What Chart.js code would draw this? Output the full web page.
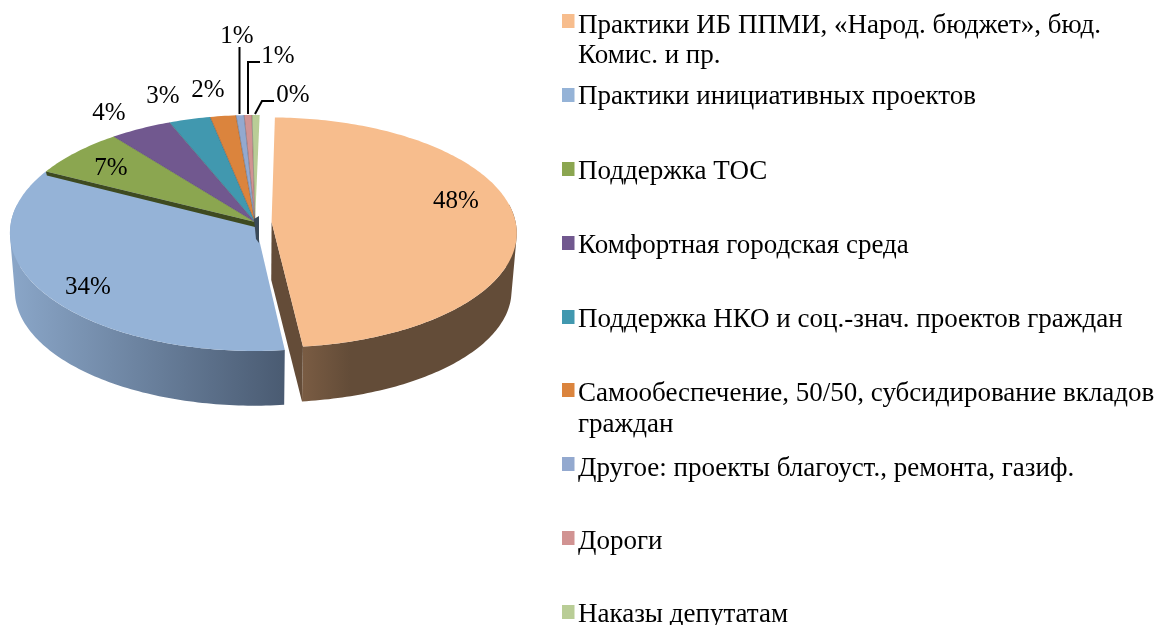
<!DOCTYPE html>
<html>
<head>
<meta charset="utf-8">
<style>html,body{margin:0;padding:0;background:#fff}canvas{display:block}</style>
<script src="https://cdn.jsdelivr.net/npm/chart.js@4"></script>
</head>
<body>
<canvas id="c" width="1154" height="625"></canvas>
<script>
const categories = [
  ["Практики ИБ ППМИ, «Народ. бюджет», бюд.", "Комис. и пр."],
  ["Практики инициативных проектов"],
  ["Поддержка ТОС"],
  ["Комфортная городская среда"],
  ["Поддержка НКО и соц.-знач. проектов граждан"],
  ["Самообеспечение, 50/50, субсидирование вкладов", "граждан"],
  ["Другое: проекты благоуст., ремонта, газиф."],
  ["Дороги"],
  ["Наказы депутатам"]
];
const sliceValues = [47.9, 34.2, 6.9, 4.45, 3.0, 1.86, 0.58, 0.56, 0.55];
const percentLabels = ["48%", "34%", "7%", "4%", "3%", "2%", "1%", "1%", "0%"];
const sliceColors = ["#F7BD8D", "#95B3D7", "#8BA650", "#71588F", "#4198AF", "#DB843D", "#93A9CF", "#D19392", "#B9CD96"];

// layout of the drawing (not data)
const P = {
  cy: 222, cyBottom: 280, ryTop: 117, ryBottom: 114, rxBottomFactor: 0.98, persp: 0.093,
  explodeU: [0.068, 0, 0, 0, 0, 0, 0, 0, 0], scaleV: [0.975, 1, 1, 1, 1, 1, 1, 1, 1]
};
const labelCenters = [[456,201],[88,287],[111,168],[109,113],[163,96],[208,90],[237,36],[278,56],[293,95]];
const leaders = {6: [[239.5,47],[239.5,114]], 7: [[248,114],[248,62],[260,62]], 8: [[255,114],[262,101],[274,101]]};
const legendSwatchY = [14, 88, 162, 236, 310, 383, 457, 531, 605];
const legendBaselines = [[33,63],[104],[179],[253],[327],[401,432],[476],[549],[622]];
const LEGEND_FONT = '27px "Liberation Serif"';
const LABEL_FONT = '25px "Liberation Serif"';

function project(el, i, t, bottom, radial) {
  const r = radial === undefined ? 1 : radial;
  const rx = bottom ? el.outerRadius * P.rxBottomFactor : el.outerRadius;
  const ry = bottom ? P.ryBottom : P.ryTop;
  const cy = bottom ? P.cyBottom : P.cy;
  const u = r * Math.sin(t) + P.explodeU[i];
  const v = -r * Math.cos(t) * P.scaleV[i];
  const d = 1 - P.persp * v;
  return [el.x + rx * u / d, cy + ry * v / d];
}
function rim(el, i, t0, t1, bottom) {
  const pts = [], n = Math.max(2, Math.ceil((t1 - t0) / (Math.PI / 180)));
  for (let k = 0; k <= n; k++) pts.push(project(el, i, t0 + (t1 - t0) * k / n, bottom));
  return pts;
}
function poly(ctx, pts, fill) {
  ctx.beginPath();
  pts.forEach((p, k) => k ? ctx.lineTo(p[0], p[1]) : ctx.moveTo(p[0], p[1]));
  ctx.closePath();
  ctx.fillStyle = fill;
  ctx.fill();
}
function hGrad(ctx, x0, x1, stops) {
  const g = ctx.createLinearGradient(x0, 0, x1, 0);
  stops.forEach(s => g.addColorStop(s[0], s[1]));
  return g;
}
function signedArea(q) {
  let s = 0;
  q.forEach((p, k) => { const n = q[(k + 1) % q.length]; s += p[0] * n[1] - n[0] * p[1]; });
  return s;
}
const pie3d = {
  id: 'pie3d',
  beforeDatasetsDraw(chart) {
    const ctx = chart.ctx, arcs = chart.getDatasetMeta(0).data;
    ctx.save();
    const ang = a => ({t0: a.startAngle + Math.PI / 2, t1: a.endAngle + Math.PI / 2});
    // outer walls, swept between the top and bottom rims (front-facing part only)
    const wallFill = [
      hGrad(ctx, 302, 350, [[0, '#7A5C43'], [1, '#634C38']]),
      hGrad(ctx, 12, 284, [[0, '#8AA6C8'], [1, '#4A5B72']])
    ];
    [0, 1].forEach(i => {
      const {t0, t1} = ang(arcs[i]);
      const lo = i === 0 ? Math.max(t0, Math.PI * 0.45) : t0;
      const hi = i === 1 ? Math.min(t1, Math.PI * 1.55) : t1;
      const top = rim(arcs[i], i, lo, hi, false), bot = rim(arcs[i], i, lo, hi, true);
      ctx.beginPath();
      for (let k = 0; k + 1 < top.length; k++) {
        let q = [top[k], top[k + 1], bot[k + 1], bot[k]];
        if (signedArea(q) < 0) q = q.reverse();
        q.forEach((p, m) => m ? ctx.lineTo(p[0], p[1]) : ctx.moveTo(p[0], p[1]));
        ctx.closePath();
      }
      ctx.fillStyle = wallFill[i];
      ctx.fill('nonzero');
    });
    // cut wall of the pulled-out slice
    {
      const a = arcs[0], t = ang(a).t1;
      poly(ctx, [project(a, 0, t, false, 0), project(a, 0, t, false), project(a, 0, t, true), project(a, 0, t, true, 0)], '#644C38');
    }
    // top faces
    arcs.forEach((a, i) => {
      const {t0, t1} = ang(a);
      const pts = rim(a, i, t0, t1, false);
      pts.push(project(a, i, 0, false, 0));
      poly(ctx, pts, sliceColors[i]);
    });
    // seams between the back slices
    ctx.strokeStyle = 'rgba(40,40,50,0.45)';
    ctx.lineWidth = 0.7;
    for (let i = 3; i < arcs.length; i++) {
      const t = ang(arcs[i]).t0, p = project(arcs[i], i, t, false), c = project(arcs[i], i, 0, false, 0);
      ctx.beginPath(); ctx.moveTo(p[0], p[1]); ctx.lineTo(c[0], c[1]); ctx.stroke();
    }
    // cut wall seen between the green and blue slices, and the dark core
    {
      const a = arcs[2], t = ang(a).t0, p = project(a, 2, t, false), c = project(a, 2, 0, false, 0);
      poly(ctx, [p, c, [c[0], c[1] + 5], [p[0] + 1, p[1] + 4]], '#3E4A20');
      poly(ctx, [[c[0] - 1, c[1] - 3], [c[0] + 4, c[1] - 6], [c[0] + 4, c[1] + 21], [c[0] + 1, c[1] + 17]], '#3B4A58');
    }
    // percentage labels and leader lines
    ctx.fillStyle = '#000';
    ctx.font = LABEL_FONT;
    ctx.textAlign = 'center';
    ctx.textBaseline = 'middle';
    percentLabels.forEach((s, i) => ctx.fillText(s, labelCenters[i][0], labelCenters[i][1]));
    ctx.strokeStyle = '#000';
    ctx.lineWidth = 2;
    Object.values(leaders).forEach(line => {
      ctx.beginPath();
      line.forEach((p, k) => k ? ctx.lineTo(p[0], p[1]) : ctx.moveTo(p[0], p[1]));
      ctx.stroke();
    });
    // legend
    ctx.font = LEGEND_FONT;
    ctx.textAlign = 'left';
    ctx.textBaseline = 'alphabetic';
    chart.data.labels.forEach((lines, i) => {
      ctx.fillStyle = sliceColors[i];
      ctx.fillRect(562, legendSwatchY[i], 12.5, 14);
      ctx.fillStyle = '#000';
      lines.forEach((s, k) => ctx.fillText(s, 578, legendBaselines[i][k]));
    });
    ctx.restore();
    return false;
  }
};
new Chart(document.getElementById('c'), {
  type: 'pie',
  data: {labels: categories, datasets: [{data: sliceValues, backgroundColor: sliceColors, borderWidth: 0}]},
  options: {
    responsive: false,
    animation: false,
    rotation: 1.2,
    layout: {padding: {left: 11, right: 655, top: 0, bottom: 0}},
    plugins: {legend: {display: false}, tooltip: {enabled: false}}
  },
  plugins: [pie3d]
});
</script>
</body>
</html>
